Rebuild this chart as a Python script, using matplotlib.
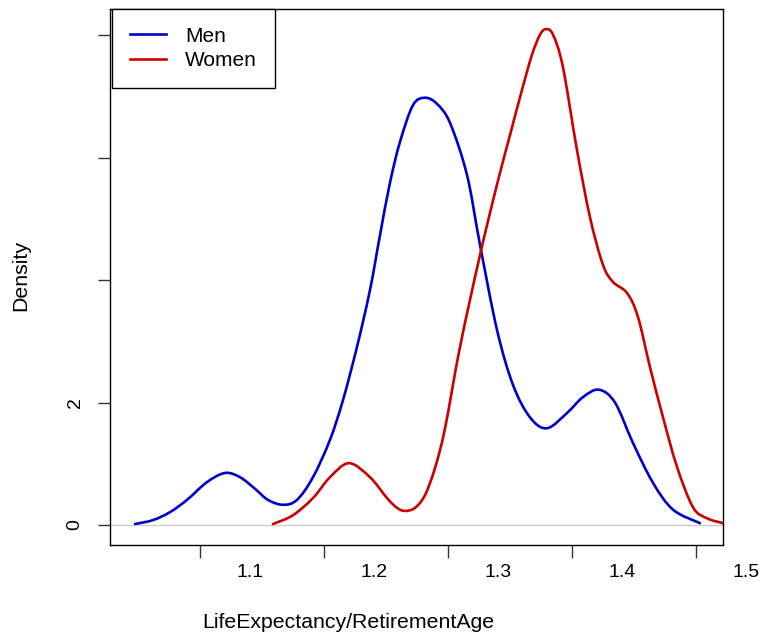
import matplotlib
matplotlib.use("Agg")
import matplotlib.pyplot as plt
from matplotlib.transforms import ScaledTranslation
from matplotlib.path import Path
from matplotlib.patches import PathPatch
from matplotlib.lines import Line2D

plt.rcParams['font.family'] = ['Liberation Sans', 'DejaVu Sans']

# Density curves
men_x = [1.0476, 1.0621, 1.0758, 1.0895, 1.1056, 1.1202, 1.1323, 1.1444, 1.1548,
         1.1669, 1.1782, 1.1911, 1.2048, 1.2153, 1.2266, 1.2371, 1.2452, 1.2532,
         1.2613, 1.2718, 1.2815, 1.2911, 1.3016, 1.3153, 1.3258, 1.3395, 1.3524,
         1.3661, 1.3798, 1.3960, 1.4089, 1.4218, 1.4347, 1.4492, 1.4653, 1.4815,
         1.5032]
men_y = [0.016, 0.08, 0.21, 0.41, 0.70, 0.85, 0.78, 0.59, 0.41,
         0.33, 0.41, 0.78, 1.39, 2.04, 2.91, 3.84, 4.74, 5.59,
         6.26, 6.86, 6.98, 6.88, 6.57, 5.72, 4.58, 3.19, 2.29,
         1.76, 1.58, 1.83, 2.09, 2.21, 2.00, 1.34, 0.69, 0.25,
         0.03]

women_x = [1.1589, 1.1750, 1.1911, 1.2048, 1.2202, 1.2371, 1.2508, 1.2589, 1.2653,
           1.2734, 1.2815, 1.2895, 1.2976, 1.3097, 1.3258, 1.3395, 1.3500, 1.3597,
           1.3677, 1.3742, 1.3790, 1.3847, 1.3927, 1.4040, 1.4145, 1.4250, 1.4331,
           1.4444, 1.4532, 1.4629, 1.4734, 1.4847, 1.4976, 1.5089, 1.5218]
women_y = [0.016, 0.16, 0.44, 0.78, 1.01, 0.78, 0.44, 0.28, 0.23,
           0.28, 0.49, 0.93, 1.58, 2.91, 4.41, 5.56, 6.37, 7.11,
           7.68, 8.01, 8.10, 8.01, 7.48, 6.13, 5.03, 4.25, 3.97,
           3.79, 3.40, 2.58, 1.76, 0.95, 0.29, 0.11, 0.03]

x_ticks = [1.1, 1.2, 1.3, 1.4, 1.5]
x_tick_labels = ["1.1", "1.2", "1.3", "1.4", "1.5"]
y_ticks = [0, 2, 4, 6, 8]
y_tick_labels = ["0", "2", "", "", ""]


def smooth_path(xs, ys):
    """Catmull-Rom spline through the read points, drawn as a Bezier path."""
    pts = list(zip(xs, ys))
    verts = [pts[0]]
    codes = [Path.MOVETO]
    n = len(pts)
    for i in range(n - 1):
        p0 = pts[i - 1] if i > 0 else pts[i]
        p1 = pts[i]
        p2 = pts[i + 1]
        p3 = pts[i + 2] if i + 2 < n else pts[i + 1]
        c1 = (p1[0] + (p2[0] - p0[0]) / 6, p1[1] + (p2[1] - p0[1]) / 6)
        c2 = (p2[0] - (p3[0] - p1[0]) / 6, p2[1] - (p3[1] - p1[1]) / 6)
        verts += [c1, c2, p2]
        codes += [Path.CURVE4] * 3
    return Path(verts, codes)


fig = plt.figure(figsize=(7.64, 6.37), dpi=100)
ax = fig.add_axes([110/764, 1 - 545/637, (723-110)/764, (545-9)/637])

ax.axhline(0, color='#cccccc', lw=1.0, zorder=1)
men_color = '#0000CD'
women_color = '#CD0000'
ax.add_patch(PathPatch(smooth_path(men_x, men_y), fill=False, edgecolor=men_color,
                       lw=1.9, zorder=3, capstyle='round', joinstyle='round'))
ax.add_patch(PathPatch(smooth_path(women_x, women_y), fill=False, edgecolor=women_color,
                       lw=1.9, zorder=3, capstyle='round', joinstyle='round'))

ax.set_xlim(1.0274, 1.5218)
ax.set_ylim(-0.327, 8.43)

ax.set_xticks(x_ticks)
ax.set_xticklabels(x_tick_labels, fontsize=14)
ax.set_yticks(y_ticks)
ax.set_yticklabels(y_tick_labels, fontsize=14, rotation=90, va='center')
ax.tick_params(axis='both', direction='out', length=9, width=1, color='#333333')
ax.tick_params(axis='x', pad=5)
ax.tick_params(axis='y', pad=10)

offset = ScaledTranslation(0.5, 0, fig.dpi_scale_trans)
for lab in ax.get_xticklabels():
    lab.set_transform(lab.get_transform() + offset)

for sp in ax.spines.values():
    sp.set_color('black')
    sp.set_linewidth(1.0)

fig.text(348/764, 1 - 623/637, "LifeExpectancy/RetirementAge", fontsize=15.3,
         ha='center', va='center')
fig.text(21/764, 1 - 276/637, "Density", fontsize=15.3, rotation=90,
         ha='center', va='center')

handles = [Line2D([], [], color=men_color, lw=1.9),
           Line2D([], [], color=women_color, lw=1.9)]
leg = ax.legend(handles, ['Men', 'Women'], loc='upper left',
                bbox_to_anchor=(2/613, 1.0), borderaxespad=0,
                fontsize=15, frameon=True, fancybox=False, edgecolor='black',
                handlelength=1.75, handletextpad=0.9, labelspacing=0.25,
                borderpad=0.85)
leg.get_frame().set_linewidth(1.0)
leg.get_frame().set_alpha(None)
leg.get_frame().set_facecolor('white')

fig.savefig("out.png", dpi=100)
